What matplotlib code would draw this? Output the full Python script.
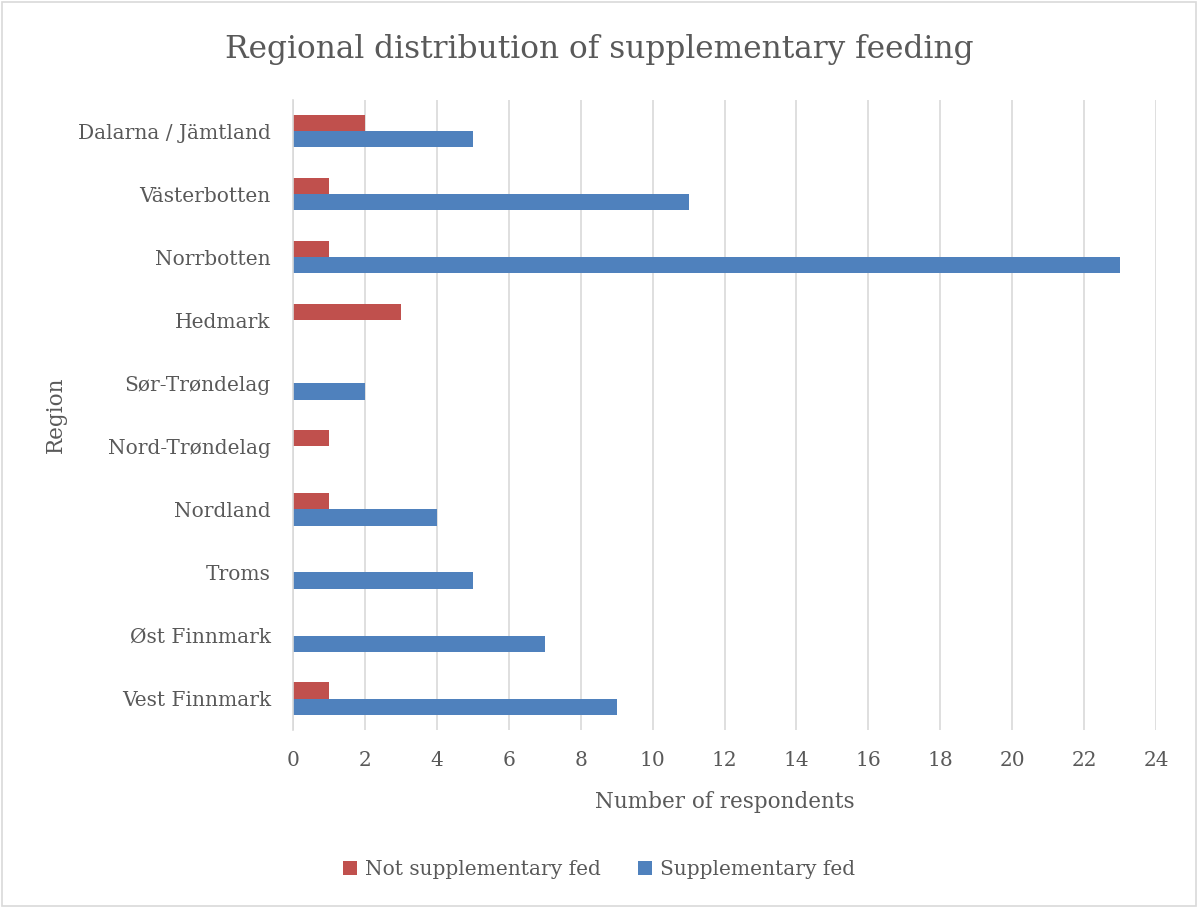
import matplotlib
matplotlib.use("Agg")
import matplotlib.pyplot as plt
import numpy as np
from matplotlib.patches import Rectangle

regions = ["Dalarna / Jämtland", "Västerbotten", "Norrbotten", "Hedmark",
           "Sør-Trøndelag", "Nord-Trøndelag", "Nordland", "Troms",
           "Øst Finnmark", "Vest Finnmark"]
not_fed = [2, 1, 1, 3, 0, 1, 1, 0, 0, 1]
fed = [5, 11, 23, 0, 2, 0, 4, 5, 7, 9]
xticks = list(range(0, 26, 2))

plt.rcParams['font.family'] = ['DejaVu Serif']
txt = '#595959'
red = '#C0504D'
blue = '#4F81BD'

fig = plt.figure(figsize=(11.98, 9.08), dpi=100)
fig.patches.append(Rectangle((0.002, 0.002), 0.996, 0.996, transform=fig.transFigure,
                             fill=False, edgecolor='#D9D9D9', linewidth=1.2))
ax = fig.add_axes([0.2446, 0.196, 0.7204, 0.694])

n = len(regions)
ypos = np.arange(n)[::-1]
h = 0.255
ax.barh(ypos + h / 2, not_fed, height=h, color=red, label='Not supplementary fed')
ax.barh(ypos - h / 2, fed, height=h, color=blue, label='Supplementary fed')

ax.set_xlim(0, 24)
ax.set_ylim(-0.5, n - 0.5)
ax.set_xticks(xticks)
ax.set_yticks(ypos)
ax.set_yticklabels(regions)
ax.tick_params(axis='both', length=0, labelsize=14.5, colors=txt)
ax.tick_params(axis='y', pad=16)
ax.tick_params(axis='x', pad=15)
ax.grid(axis='x', color='#D9D9D9', linewidth=1.2)
ax.set_axisbelow(True)
for s in ['top', 'right', 'bottom']:
    ax.spines[s].set_visible(False)
ax.spines['left'].set_color('#D9D9D9')
ax.spines['left'].set_linewidth(1.2)

ax.set_xlabel('Number of respondents', fontsize=15.5, color=txt, labelpad=15)
ax.set_ylabel('Region', fontsize=15.5, color=txt, labelpad=8)
fig.text(0.5, 0.946, 'Regional distribution of supplementary feeding', ha='center', va='center',
         fontsize=22.5, color=txt)
fig.legend(loc='center', bbox_to_anchor=(0.5, 0.042), ncol=2, frameon=False, fontsize=14.5,
           labelcolor=txt, handlelength=0.7, handleheight=0.7, columnspacing=1.8, handletextpad=0.4)

fig.savefig('out.png', dpi=100)
